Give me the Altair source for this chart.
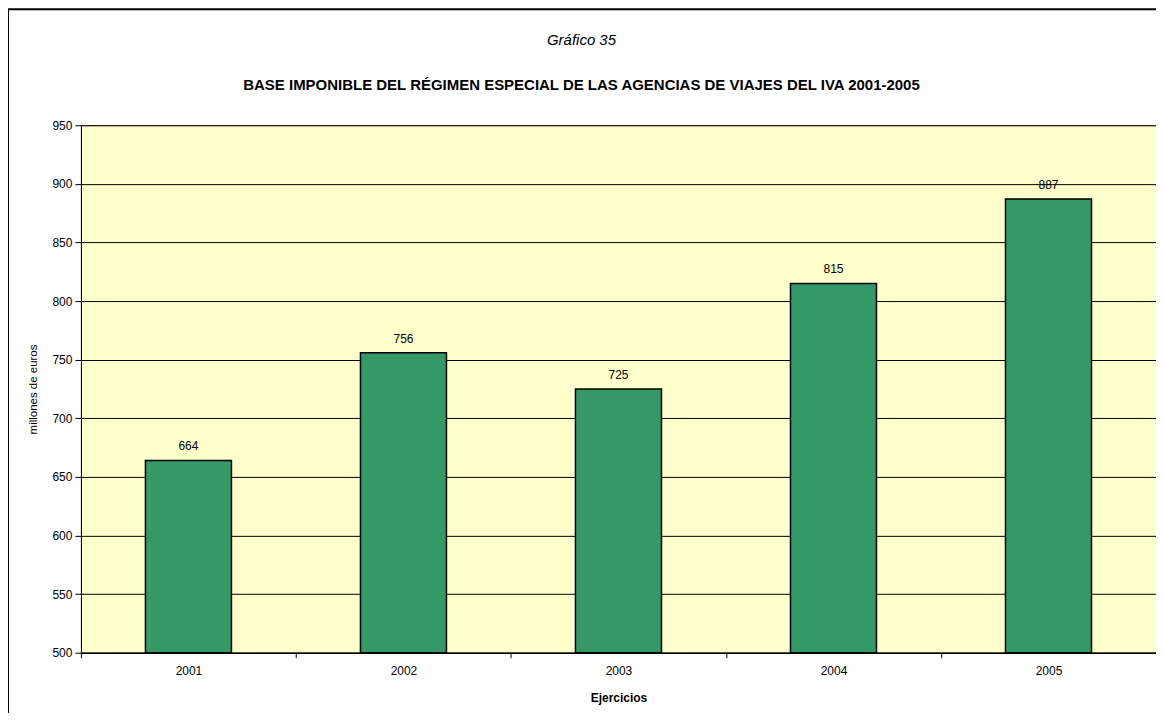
import altair as alt
import pandas as pd

years = ["2001", "2002", "2003", "2004", "2005"]
values = [664, 756, 725, 815, 887]
y_ticks = [500, 550, 600, 650, 700, 750, 800, 850, 900, 950]
y_base = 500

df = pd.DataFrame({"year": years, "value": values})

FONT = "Liberation Sans"
W, H = 1076, 528

base = alt.Chart(df)

x_enc = alt.X("year:N", title="Ejercicios",
              scale=alt.Scale(paddingInner=0, paddingOuter=0),
              axis=alt.Axis(labelAngle=0, labelFontSize=12, labelFont=FONT, labelColor="#000",
                            titleFontSize=12, titleFont=FONT, titleFontWeight="bold", titleColor="#000",
                            titlePadding=16, labelPadding=8, tickBand="extent", tickSize=5,
                            tickColor="#000", domainColor="#000", domainWidth=1.5, grid=False))
y_enc = alt.Y("value:Q", title="millones de euros",
              scale=alt.Scale(domain=[500, 950], nice=False, zero=False),
              axis=alt.Axis(values=y_ticks, labelFontSize=12, labelFont=FONT, labelColor="#000",
                            titleFontSize=11.5, titleFont=FONT, titleFontWeight="normal", titleColor="#000",
                            titlePadding=13, tickSize=6, tickColor="#000", domainColor="#000",
                            labelPadding=3,
                            grid=True, gridColor="#000", gridOpacity=1, gridWidth=1))

bars = base.mark_bar(color="#339966", stroke="#000", strokeWidth=1.5,
                     width=alt.RelativeBandSize(0.4)).encode(
    x=x_enc, y=y_enc, y2=alt.datum(y_base))

labels = base.mark_text(baseline="bottom", dy=-7, fontSize=12, font=FONT, color="#000").encode(
    x="year:N", y="value:Q", text="value:Q")

frame = alt.Chart(pd.DataFrame({"k": [0]})).mark_rect(
    fill=None, stroke="#000", strokeWidth=2).encode(
    x=alt.value(-73), x2=alt.value(W + 20), y=alt.value(-116), y2=alt.value(H + 80))

title1 = alt.Chart(pd.DataFrame({"t": ["Gráfico 35"]})).mark_text(
    fontSize=15, font=FONT, fontStyle="italic", color="#000", baseline="middle").encode(
    x=alt.value(501), y=alt.value(-85), text="t:N")
title2 = alt.Chart(pd.DataFrame({"t": ["BASE IMPONIBLE DEL RÉGIMEN ESPECIAL DE LAS AGENCIAS DE VIAJES DEL IVA 2001-2005"]})).mark_text(
    fontSize=15, font=FONT, fontWeight="bold", color="#000", baseline="middle").encode(
    x=alt.value(501), y=alt.value(-40), text="t:N")

chart = alt.layer(bars, labels, frame, title1, title2).properties(
    width=W, height=H,
    autosize=alt.AutoSizeParams(type="none"),
    padding={"left": 73, "top": 117, "right": 0, "bottom": 60},
    background="#ffffff",
).configure_view(fill="#FFFFCC", stroke="#808080", strokeWidth=1)

chart.save("out.html", embed_options={"renderer": "svg", "actions": False})
